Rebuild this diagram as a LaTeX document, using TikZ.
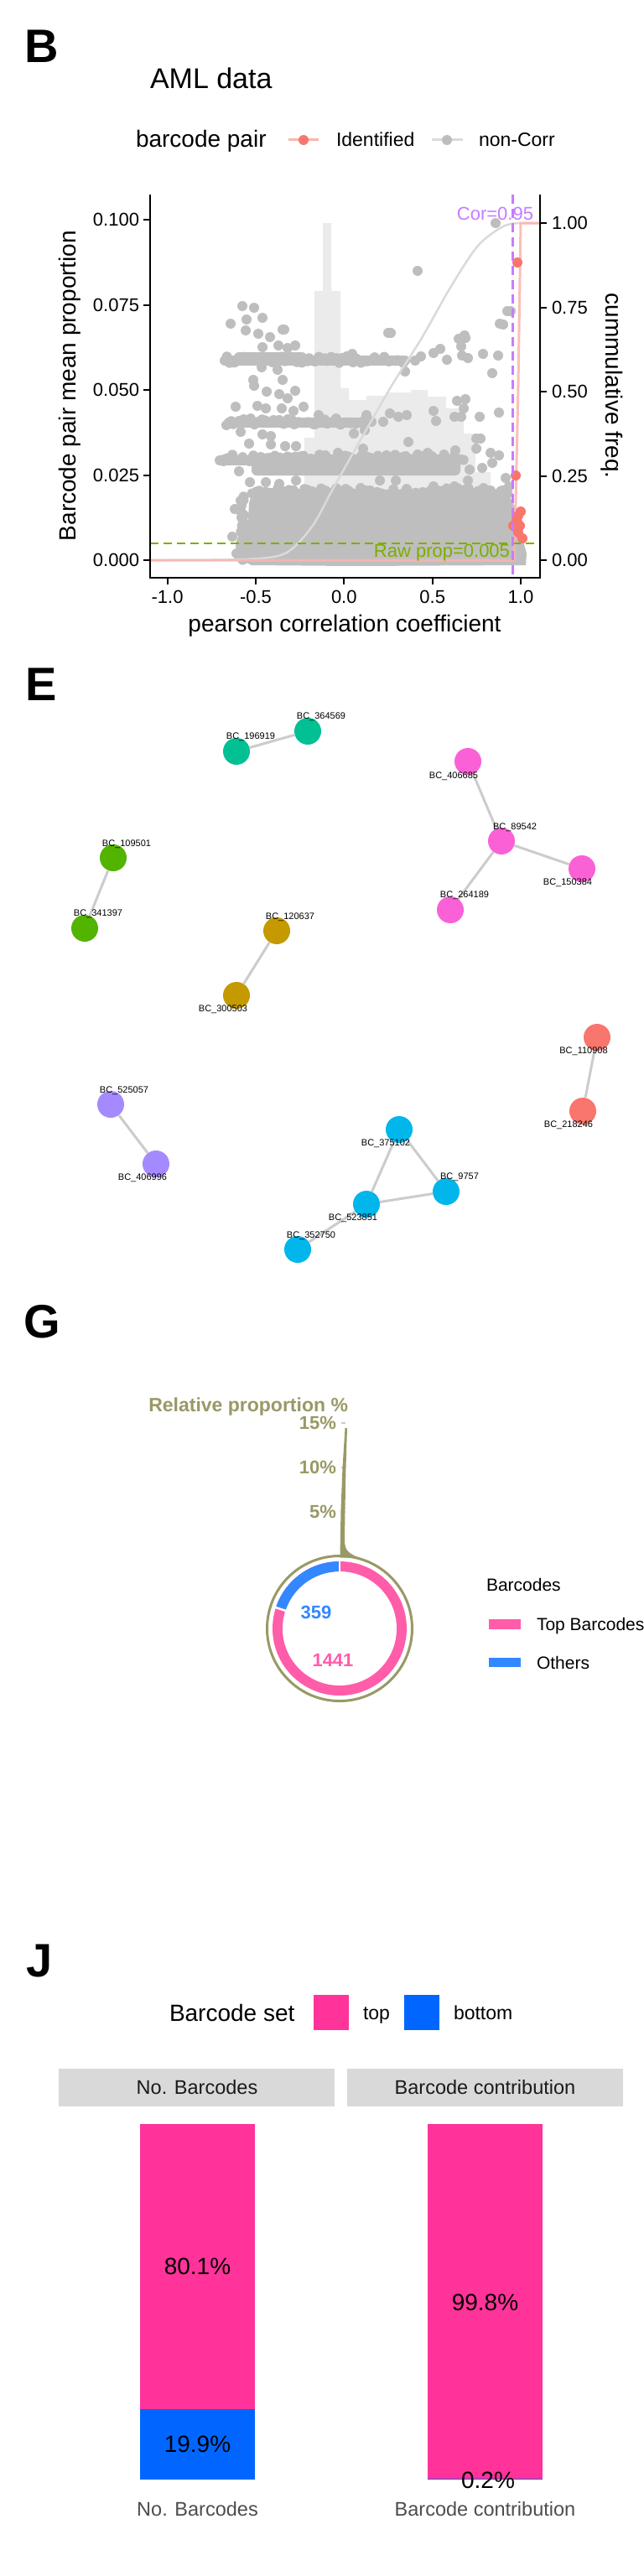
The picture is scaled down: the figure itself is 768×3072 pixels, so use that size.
\documentclass[tikz,border=0pt]{standalone}
\usepackage{fontspec}
\setmainfont{Liberation Sans}
\newcommand\fsz[1]{\fontsize{#1}{#1}\selectfont}
\definecolor{ptgray}{HTML}{BEBEBE}
\definecolor{histgray}{HTML}{EBEBEB}
\definecolor{cumgray}{HTML}{DADADA}
\definecolor{idred}{HTML}{F8766D}
\definecolor{idline}{HTML}{FBB4AF}
\definecolor{corpurple}{HTML}{C77CFF}
\definecolor{rawgreen}{HTML}{7CAE00}
\definecolor{eteal}{HTML}{00C094}
\definecolor{egreen}{HTML}{53B400}
\definecolor{egold}{HTML}{C49A00}
\definecolor{epink}{HTML}{FB61D7}
\definecolor{ered}{HTML}{F8766D}
\definecolor{epurple}{HTML}{A58AFF}
\definecolor{ecyan}{HTML}{00B6EB}
\definecolor{edgegray}{HTML}{CCCCCC}
\definecolor{olive}{HTML}{999966}
\definecolor{gpink}{HTML}{FF5CAA}
\definecolor{gblue}{HTML}{3388FF}
\definecolor{gtick}{HTML}{CCCCCC}
\definecolor{jpink}{HTML}{FF3399}
\definecolor{jblue}{HTML}{0066FF}
\definecolor{strip}{HTML}{D9D9D9}
\definecolor{stripText}{HTML}{1A1A1A}
\definecolor{axText}{HTML}{4D4D4D}
\begin{document}
\begin{tikzpicture}[x=1pt,y=-1pt,
  every node/.style={inner sep=0pt, outer sep=0pt},
  axline/.style={line width=2pt, black},
  ticklab/.style={font=\fsz{22}, text=black},
  axtitle/.style={font=\fsz{28}},
  panlab/.style={font=\bfseries\fsz{56}, anchor=base west},
  enode/.style={circle, minimum size=32pt, inner sep=0pt},
  elab/.style={font=\fsz{11}},
  eedge/.style={draw=edgegray, line width=3pt},
  glab/.style={font=\bfseries\fsz{22}, text=olive},
  gleg/.style={font=\fsz{21}, anchor=base west},
  jleg/.style={font=\fsz{23}, anchor=base west},
  striplab/.style={font=\fsz{23.5}, text=stripText, anchor=base},
  barlab/.style={font=\fsz{28}, text=black},
  jxlab/.style={font=\fsz{23.5}, text=axText, anchor=base},
]
\useasboundingbox (0,0) rectangle (768,3072);
\fill[white] (0,0) rectangle (768,3072);

%%%%%%%%%%%%%%%% PANEL B %%%%%%%%%%%%%%%%
\node[panlab] (labB) at (29,75) {B};
\node[font=\fsz{34}, anchor=base west] (titleB) at (179,106) {AML data};
% legend
\node[font=\fsz{28}, anchor=base west] (legTitleB) at (162,176) {barcode pair};
\draw[idline, line width=3pt] (344,167) -- (380,167);
\fill[idred] (362,167) circle (6pt);
\node[font=\fsz{23}, anchor=base west] (legId) at (401,175) {Identified};
\draw[cumgray, line width=3pt] (515,167) -- (552,167);
\fill[ptgray] (533,167) circle (6pt);
\node[font=\fsz{23}, anchor=base west] (legNon) at (571,175) {non-Corr};

% histogram
\fill[histgray] (363,668) -- (363,522) -- (375,522) -- (375,347) -- (385,347) -- (385,266) -- (395,266) -- (395,347) -- (406,347) -- (406,463) -- (416,463) -- (416,477) -- (437,477) -- (437,472) -- (460,472) -- (460,468) -- (490,468) -- (490,465) -- (510,465) -- (510,473) -- (532,473) -- (532,487) -- (553,487) -- (553,517) -- (567,517) -- (567,563) -- (585,563) -- (585,608) -- (600,608) -- (600,668) -- cycle;

% gray point bands
\draw[ptgray, line width=12pt, line cap=round] (268,430) -- (483,430);
\draw[ptgray, line width=12pt, line cap=round] (285,426) -- (360,426);
\draw[ptgray, line width=12pt, line cap=round] (273,504) -- (433,504);
\draw[ptgray, line width=12pt, line cap=round] (262,549) -- (310,549);
\fill[ptgray, rounded corners=6pt] (300,542) rectangle (549,567);
% dense blob
\fill[ptgray] (300,590) -- (340,585) -- (400,586) -- (460,586) -- (520,586) -- (580,588) -- (607,590) -- (614,605) -- (618,630) -- (624,645) -- (628,660) -- (627,674) -- (420,675) -- (300,674) -- (288,668) -- (286,655) -- (292,640) -- (296,620) -- (297,600) -- cycle;
\pgfmathsetseed{4242}
\foreach \i in {0,...,60}{
  \pgfmathsetmacro\xx{300+\i*5.1+2*rand}
  \pgfmathsetmacro\yy{586+4*rand}
  \fill[ptgray] (\xx,\yy) circle (6pt);
}
\foreach \i in {0,...,42}{
  \pgfmathsetmacro\xx{270+\i*5+2*rand}
  \pgfmathsetmacro\yy{429+4*rand}
  \fill[ptgray] (\xx,\yy) circle (6pt);
}
\foreach \i in {0,...,32}{
  \pgfmathsetmacro\xx{274+\i*4.9+2*rand}
  \pgfmathsetmacro\yy{503+4*rand}
  \fill[ptgray] (\xx,\yy) circle (6pt);
}
\foreach \i in {0,...,55}{
  \pgfmathsetmacro\xx{265+\i*5.2+2*rand}
  \pgfmathsetmacro\yy{546+4*rand}
  \fill[ptgray] (\xx,\yy) circle (6pt);
}
\foreach \i in {0,...,14}{
  \pgfmathsetmacro\xx{289+2*rand}
  \pgfmathsetmacro\yy{592+\i*5.5+2*rand}
  \fill[ptgray] (\xx,\yy) circle (6pt);
}
% scattered gray points
\foreach \x/\y in {591/266,498/323,289/365,303/367,275/386,294/381,313/379,293/394,308/398,322/402,337/393,463/397,605/371,596/386,547/404,555/403,550/413,313/414,332/412,352/412,343/415,576/422,594/424,551/424,558/427,533/429,525/416,517/421,502/425,495/430,483/443,587/445,312/438,331/441,302/453,303/460,337/453,318/467,333/470,352/466,420/422,343/475,281/485,307/484,317/487,336/487,350/490,362/485,380/495,437/495,443/503,457/503,465/493,475/497,485/495,517/490,520/502,545/478,555/476,553/487,542/497,550/497,572/497,595/492,270/507,435/513,422/517,287/515,313/518,323/520,297/529,323/530,340/532,353/532,487/527,568/523,573/523,568/535,543/537,433/535,403/540,267/548,285/562,298/575,317/575,333/577,353/573,575/558,587/552,595/543,585/540,607/580,603/570,558/573,585/585,400/585,412/585,443/587,430/582,453/573,472/573,485/583,517/580,530/585,542/580,498/542,510/540,537/550,550/548,560/560,282/660,280/607,287/597,288/617,298/627,303/590,277/640,466/397,554/400,609/371,600/387,339/393}
  \fill[ptgray] (\x,\y) circle (6pt);

% cumulative curves
\draw[cumgray, line width=2.5pt] plot[smooth] coordinates {(179,668) (290,667) (340,660) (372,628) (397,583) (432,521) (467,460) (503,403) (537,343) (570,293) (600,270) (620,266)} -- (644,266);
\draw[idline, line width=3pt, opacity=0.85] (179,668) -- (613,668) -- (615,600) -- (618,460) -- (621,266) -- (644,266);

% identified points
\foreach \x/\y in {617/313,615/567,621/610,618/615,616/620,617/623,612/627,620/627,618/635,623/642}
  \fill[idred] (\x,\y) circle (6pt);

% threshold lines
\draw[rawgreen, line width=2.2pt, dash pattern=on 10pt off 6pt] (179,648) -- (644,648);
\draw[corpurple, line width=2.2pt, dash pattern=on 11pt off 6pt] (611.5,232) -- (611.5,689);
\node[font=\fsz{22}, text=corpurple, anchor=base] (corlab) at (590.5,262) {Cor=0.95};
\node[font=\fsz{22}, text=rawgreen, anchor=base east] (rawlab) at (608,664) {Raw prop=0.005};

% axes
\draw[axline] (179,232) -- (179,689) -- (644,689) -- (644,232);
\foreach \y/\t in {262/0.100,363.5/0.075,465/0.050,566.5/0.025,668/0.000}{
  \draw[axline] (171,\y) -- (179,\y);
  \node[ticklab, anchor=east] at (166,\y) {\t};
}
\foreach \y/\t in {266/1.00,367/0.75,467/0.50,567.5/0.25,668/0.00}{
  \draw[axline] (644,\y) -- (652,\y);
  \node[ticklab, anchor=west] at (658,\y) {\t};
}
\foreach \x/\t in {199.6/-1.0,305/-0.5,410.3/0.0,515.7/0.5,621/1.0}{
  \draw[axline] (\x,689) -- (\x,697);
  \node[ticklab, anchor=north] at (\x,704) {\t};
}
\node[axtitle, rotate=90] (ylabB) at (83,460) {Barcode pair mean proportion};
\node[axtitle, rotate=-90] (y2labB) at (730,460) {cummulative freq.};
\node[axtitle, anchor=base] (xlabB) at (411,753) {pearson correlation coefficient};

%%%%%%%%%%%%%%%% PANEL E %%%%%%%%%%%%%%%%
\node[panlab] (labE) at (30,835) {E};
\node[enode, fill=eteal] (n364569) at (367,872) {};
\node[enode, fill=eteal] (n196919) at (282,896) {};
\node[enode, fill=epink] (n406685) at (558,908) {};
\node[enode, fill=epink] (n89542) at (598,1003) {};
\node[enode, fill=epink] (n150384) at (694,1036) {};
\node[enode, fill=epink] (n264189) at (537,1085) {};
\node[enode, fill=egreen] (n109501) at (135,1023) {};
\node[enode, fill=egreen] (n341397) at (101,1107) {};
\node[enode, fill=egold] (n120637) at (330,1110) {};
\node[enode, fill=egold] (n300503) at (282,1187) {};
\node[enode, fill=ered] (n110908) at (712,1237) {};
\node[enode, fill=ered] (n218246) at (695,1325) {};
\node[enode, fill=epurple] (n525057) at (132,1317) {};
\node[enode, fill=epurple] (n406996) at (186,1388) {};
\node[enode, fill=ecyan] (n375102) at (476,1347) {};
\node[enode, fill=ecyan] (n9757) at (532,1421) {};
\node[enode, fill=ecyan] (n523851) at (437,1436) {};
\node[enode, fill=ecyan] (n352750) at (355,1490) {};
\begin{scope}[on background layer/.try]
\end{scope}
% edges (drawn, then nodes redrawn on top)
\draw[eedge] (n196919) -- (n364569);
\draw[eedge] (n406685) -- (n89542);
\draw[eedge] (n89542) -- (n150384);
\draw[eedge] (n89542) -- (n264189);
\draw[eedge] (n109501) -- (n341397);
\draw[eedge] (n120637) -- (n300503);
\draw[eedge] (n110908) -- (n218246);
\draw[eedge] (n525057) -- (n406996);
\draw[eedge] (n375102) -- (n9757);
\draw[eedge] (n375102) -- (n523851);
\draw[eedge] (n523851) -- (n9757);
\draw[eedge] (n523851) -- (n352750);
\node[elab] (l364569) at (383,855) {BC\_364569};
\node[elab] (l196919) at (299,879) {BC\_196919};
\node[elab] (l406685) at (541,926) {BC\_406685};
\node[elab] (l89542) at (614,987) {BC\_89542};
\node[elab] (l150384) at (677,1053) {BC\_150384};
\node[elab] (l264189) at (554,1068) {BC\_264189};
\node[elab] (l109501) at (151,1007) {BC\_109501};
\node[elab] (l341397) at (117,1090) {BC\_341397};
\node[elab] (l120637) at (346,1094) {BC\_120637};
\node[elab] (l300503) at (266,1204) {BC\_300503};
\node[elab] (l110908) at (696,1254) {BC\_110908};
\node[elab] (l218246) at (678,1342) {BC\_218246};
\node[elab] (l525057) at (148,1301) {BC\_525057};
\node[elab] (l406996) at (170,1405) {BC\_406996};
\node[elab] (l375102) at (460,1364) {BC\_375102};
\node[elab] (l9757) at (548,1404) {BC\_9757};
\node[elab] (l523851) at (421,1453) {BC\_523851};
\node[elab] (l352750) at (371,1474) {BC\_352750};

%%%%%%%%%%%%%%%% PANEL G %%%%%%%%%%%%%%%%
\node[panlab] (labG) at (28,1595) {G};
\node[glab, font=\bfseries\fsz{23}, anchor=base east] (gtitle) at (415,1683) {Relative proportion \%};
\foreach \y/\t in {1697/15\%,1750/10\%,1803/5\%}{
  \draw[gtick, line width=1.2pt] (407,\y) -- (412,\y);
  \node[glab, anchor=east] at (401,\y) {\t};
}
\draw[olive, line width=3pt] (405,1942) circle (86.5pt);
\fill[olive] (405.5,1856) -- (406.5,1800) -- (408.5,1750) -- (411.5,1703) -- (414,1703) -- (412.5,1750) -- (411.5,1800) -- (411,1838) .. controls (411.5,1849) and (415,1852) .. (428,1857.5) -- (405.5,1857.5) -- cycle;
\begin{scope}[shift={(405,1942)}]
  \fill[gpink] (0,0) circle (80pt);
  \fill[white] (0,0) circle (68pt);
  \fill[gblue] (90:68pt) arc[start angle=90, end angle=161.8, radius=68pt] -- (161.8:80pt) arc[start angle=161.8, end angle=90, radius=80pt] -- cycle;
  \draw[white, line width=2.5pt] (90:66pt) -- (90:82pt);
  \draw[white, line width=2.5pt] (161.8:66pt) -- (161.8:82pt);
\end{scope}
\node[font=\bfseries\fsz{22}, text=gblue] (g359) at (377,1923) {359};
\node[font=\bfseries\fsz{22}, text=gpink] (g1441) at (397,1980) {1441};
\node[gleg] (gLegT) at (580,1897) {Barcodes};
\fill[gpink] (583,1931) rectangle (621,1943);
\node[gleg] (gLegTop) at (640,1944.5) {Top Barcodes};
\fill[gblue] (583,1977) rectangle (621,1988);
\node[gleg] (gLegOth) at (640,1990) {Others};

%%%%%%%%%%%%%%%% PANEL J %%%%%%%%%%%%%%%%
\node[panlab] (labJ) at (31,2357) {J};
\node[font=\fsz{28}, anchor=base west] (jLegT) at (202,2410) {Barcode set};
\fill[jpink] (374,2379) rectangle (416,2421);
\node[jleg] (jLegTop) at (433,2408) {top};
\fill[jblue] (482,2379) rectangle (524,2421);
\node[jleg] (jLegBot) at (541,2408) {bottom};
\fill[strip] (70,2467) rectangle (399,2512);
\fill[strip] (414,2467) rectangle (743,2512);
\node[striplab] (s1) at (235,2497) {No. Barcodes};
\node[striplab] (s2) at (578.5,2497) {Barcode contribution};
\fill[jpink] (167,2533) rectangle (304,2873);
\fill[jblue] (167,2873) rectangle (304,2957);
\fill[jpink] (510,2533) rectangle (647,2956);
\fill[jblue] (510,2955.8) rectangle (647,2957.4);
\node[barlab] (b801) at (235.5,2703) {80.1\%};
\node[barlab] (b199) at (235.5,2915) {19.9\%};
\node[barlab] (b998) at (578.5,2746) {99.8\%};
\node[barlab] (b02) at (582,2958) {0.2\%};
\node[jxlab] (x1) at (235.5,3000) {No. Barcodes};
\node[jxlab] (x2) at (578.5,3000) {Barcode contribution};
\end{tikzpicture}
\end{document}
